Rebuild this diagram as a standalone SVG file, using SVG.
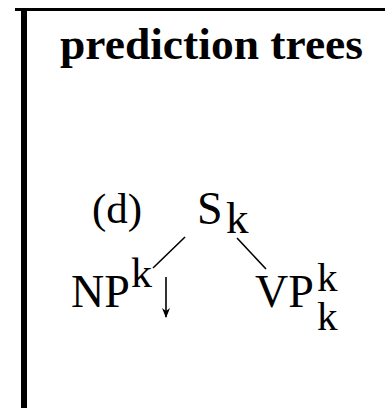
<svg xmlns="http://www.w3.org/2000/svg" width="385" height="408" viewBox="0 0 385 408">
<style>
.t{font-family:"Liberation Serif","Times New Roman",serif;fill:#000}
.e{stroke:#000;stroke-width:1.6;fill:none}
</style>
<defs>
<marker id="ah" markerWidth="10" markerHeight="8" refX="9" refY="4" orient="auto" markerUnits="userSpaceOnUse" viewBox="0 0 10 8">
<path d="M0,0 L10,4 L0,8 L3,4 Z" fill="#000"/>
</marker>
</defs>
<rect width="385" height="408" fill="#fff"/>
<g id="frame">
<rect x="15" y="8" width="370" height="3" fill="#000"/>
<rect x="21" y="8" width="6" height="400" fill="#000"/>
</g>
<g id="title"><text class="t" x="60" y="59" font-size="44" font-weight="bold" textLength="303" lengthAdjust="spacingAndGlyphs">prediction trees</text></g>
<g id="label-d"><text class="t" x="92" y="223" font-size="43">(d)</text></g>
<g id="node-S">
<text class="t" x="197" y="224" font-size="46">S</text>
<text class="t" x="226" y="233" font-size="45">k</text>
</g>
<g id="node-NP">
<text class="t" x="71" y="307" font-size="46">NP</text>
<text class="t" x="131" y="287" font-size="42">k</text>
<line class="e" x1="166" y1="277" x2="166" y2="317" marker-end="url(#ah)"/>
</g>
<g id="node-VP">
<text class="t" x="255" y="307" font-size="46">VP</text>
<text class="t" x="317" y="291" font-size="41">k</text>
<text class="t" x="317" y="330" font-size="41">k</text>
</g>
<g id="connectors">
<line class="e" x1="185" y1="237" x2="153" y2="268"/>
<line class="e" x1="237" y1="238" x2="266" y2="269"/>
</g>
</svg>
